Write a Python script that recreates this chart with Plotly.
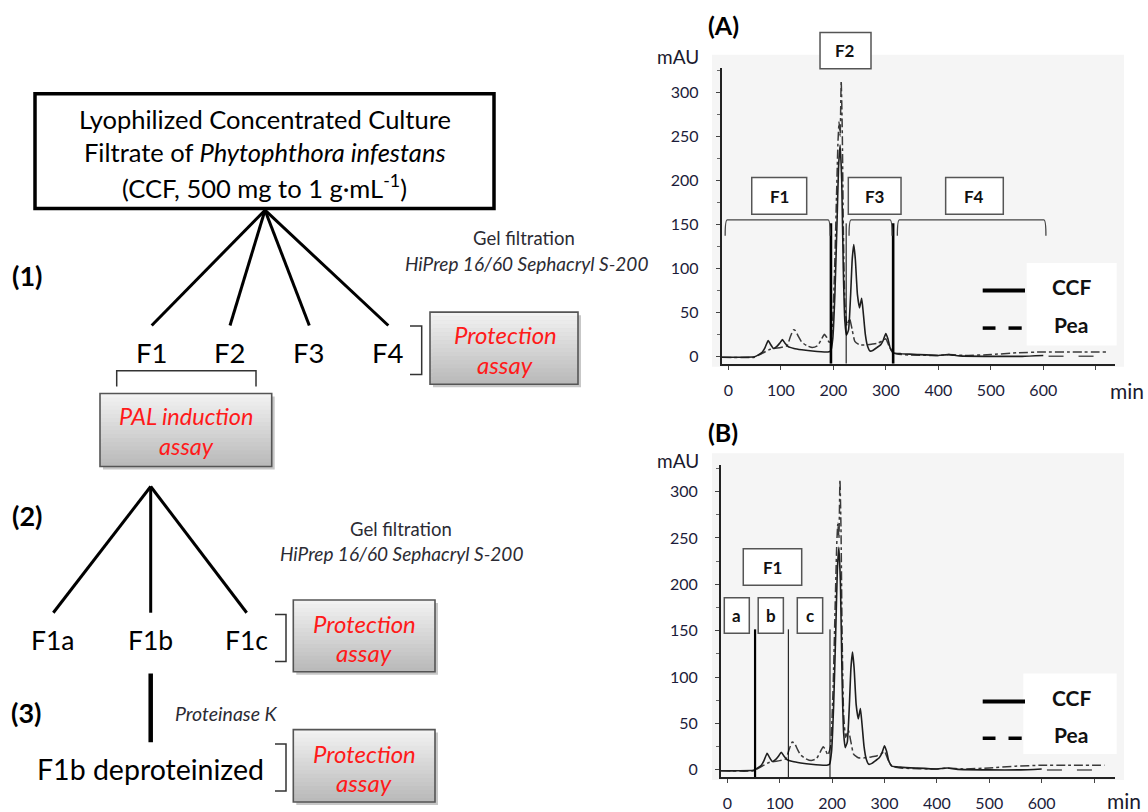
import plotly.graph_objects as go

W, H = 1148, 812

# ---------------- data ----------------
ccf_time = [-12, 20, 50, 58, 65, 70, 76, 80, 86, 92, 98, 103, 108, 114, 125, 140, 160, 190, 195,
            199, 203, 207, 210, 213, 216, 219, 222, 225, 229, 233, 236, 239, 242, 246, 250, 254,
            257, 261, 265, 270, 276, 283, 290, 295, 300, 304, 308, 314, 330, 360, 400, 420, 440,
            500, 560, 600]
ccf_mau = [-1, -1, -0.5, 2, 5, 10, 18, 14, 9, 11, 15, 19, 15, 11, 9, 7.5, 6, 5, 6,
           20, 70, 150, 215, 240, 200, 100, 40, 24, 30, 70, 110, 127, 110, 70, 55, 66,
           50, 25, 12, 6, 7, 10, 13, 18, 26, 20, 10, 4, 3, 2, 1, 2, 0.5,
           0, 0, 1]
pea_time = [-12, 50, 60, 80, 100, 112, 118, 124, 128, 134, 140, 150, 160, 170, 178, 183, 187, 192,
            197, 202, 206, 209, 211, 213, 215, 217, 219, 222, 226, 231, 236, 241, 250, 262, 275,
            285, 295, 300, 306, 314, 330, 400, 420, 450, 500, 550, 600, 650, 720]
pea_mau = [-1, -1, 2, 8, 10, 12, 22, 30, 29, 22, 16, 12, 10, 12, 20, 25, 22, 16,
           25, 90, 180, 245, 266, 250, 313, 260, 150, 60, 35, 43, 30, 17, 13, 13, 14,
           15, 18, 20, 12, 4, 2, 1, 2, 1, 2, 4, 5, 5, 5]
ccf_tail_time = [610, 720]
ccf_tail_mau = [0, 0]

x_tick_vals = [0, 100, 200, 300, 400, 500, 600]
x_tick_text = ["0", "100", "200", "300", "400", "500", "600"]
y_tick_vals = [0, 50, 100, 150, 200, 250, 300]

fractions_A = ["F1", "F3", "F4"]
fraction_A_from = [-6, 230, 322]
fraction_A_to = [194, 312, 605]
cuts_A = [195.5, 224.5, 314]
cuts_B = [53, 116.5, 196]
subfractions_B = ["a", "b", "c"]

FONT = "Lato"

# ------------- helpers (pixel -> paper) -------------
def px(x):
    return x / W

def py(y):
    return 1 - y / H

shapes = []
annotations = []

def prect(x0, y0, x1, y1, color="black", width=1, fill="rgba(0,0,0,0)", layer="above"):
    shapes.append(dict(type="rect", xref="paper", yref="paper", x0=px(x0), x1=px(x1),
                       y0=py(y1), y1=py(y0), line=dict(color=color, width=width),
                       fillcolor=fill, layer=layer))

def pline(x0, y0, x1, y1, color="black", width=3):
    shapes.append(dict(type="line", xref="paper", yref="paper", x0=px(x0), y0=py(y0),
                       x1=px(x1), y1=py(y1), line=dict(color=color, width=width), layer="above"))

def ppath(pts, color="#333", width=1.5):
    d = "M " + " L ".join(f"{px(x):.5f},{py(y):.5f}" for x, y in pts)
    shapes.append(dict(type="path", xref="paper", yref="paper", path=d,
                       line=dict(color=color, width=width), layer="above"))

def ptext(x, y, text, size=22, color="black", bold=False, italic=False, xanchor="center"):
    t = text
    if bold:
        t = f"<b>{t}</b>"
    if italic:
        t = f"<i>{t}</i>"
    annotations.append(dict(xref="paper", yref="paper", x=px(x), y=py(y), text=t,
                            showarrow=False, xanchor=xanchor, yanchor="middle",
                            font=dict(family=FONT, size=size, color=color)))

def grad_box(x0, y0, x1, y1):
    prect(x0 + 3, y0 + 3, x1 + 3, y1 + 3, color="rgba(0,0,0,0)", width=0,
          fill="rgba(0,0,0,0.22)")
    n = 18
    top = (242, 242, 242)
    bot = (186, 186, 186)
    for i in range(n):
        f = i / (n - 1)
        c = tuple(int(top[k] + (bot[k] - top[k]) * f) for k in range(3))
        ya = y0 + (y1 - y0) * i / n
        yb = y0 + (y1 - y0) * (i + 1) / n + 0.6
        prect(x0, ya, x1, min(yb, y1), color="rgba(0,0,0,0)", width=0,
              fill=f"rgb{c}")
    prect(x0, y0, x1, y1, color="#555555", width=1.6)

RED = "#ff1a1a"
GREY_TXT = "#2b2b33"

# ---------------- flowchart ----------------
prect(35, 94, 494, 209.3, color="black", width=3.5, fill="white")
ptext(264.5, 119.5, "Lyophilized Concentrated Culture", size=25.5)
ptext(264.5, 153, "Filtrate of <i>Phytophthora infestans</i>", size=25.5)
ptext(264.5, 186.5, "(CCF, 500 mg to 1 g·mL<sup>-1</sup>)", size=25.5)

apex1 = (265, 211)
f_x = [151.7, 230, 309.3, 388.3]
for fx in f_x:
    pline(apex1[0], apex1[1], fx, 326.7, width=3)
for lab, fx in zip(["F1", "F2", "F3", "F4"], f_x):
    ptext(fx, 353.5, lab, size=27.5)

ptext(27, 277, "(1)", size=27, bold=True)
ptext(27, 517, "(2)", size=27, bold=True)
ptext(26, 715, "(3)", size=27, bold=True)

ppath([(116.7, 388), (116.7, 372), (256, 372), (256, 388)])
grad_box(100, 395, 271.7, 468.3)
ptext(186, 417.5, "PAL induction", size=23.5, color=RED, italic=True)
ptext(186, 447.5, "assay", size=23.5, color=RED, italic=True)

ppath([(410, 327.3), (421.7, 327.3), (421.7, 376), (410, 376)])
grad_box(430, 313.3, 578, 385.7)
ptext(505, 336, "Protection", size=24, color=RED, italic=True)
ptext(505, 366, "assay", size=24, color=RED, italic=True)

ptext(524, 238.5, "Gel filtration", size=18.5, color=GREY_TXT)
ptext(526, 264.5, "HiPrep 16/60 Sephacryl S-200", size=19, color=GREY_TXT, italic=True)

apex2 = (150.7, 488.3)
f1_x = [53.3, 150.7, 246.7]
for fx in f1_x:
    pline(apex2[0], apex2[1], fx, 615, width=3)
for lab, fx in zip(["F1a", "F1b", "F1c"], f1_x):
    ptext(fx, 642, lab, size=26.5)

ptext(401, 531, "Gel filtration", size=18.5, color=GREY_TXT)
ptext(401, 555.5, "HiPrep 16/60 Sephacryl S-200", size=19, color=GREY_TXT, italic=True)

ppath([(275, 616.7), (286, 616.7), (286, 664), (275, 664)])
grad_box(293.3, 602.3, 435, 674.3)
ptext(364.3, 626, "Protection", size=24, color=RED, italic=True)
ptext(364.3, 655, "assay", size=24, color=RED, italic=True)

pline(150.7, 676, 150.7, 745, width=4.5)
ptext(226, 716, "Proteinase K", size=19.5, color=GREY_TXT, italic=True)
ptext(150.5, 772, "F1b deproteinized", size=28.5)

ppath([(275, 746.7), (286, 746.7), (286, 794), (275, 794)])
grad_box(293.3, 732.3, 435, 805)
ptext(364.3, 756, "Protection", size=24, color=RED, italic=True)
ptext(364.3, 785, "assay", size=24, color=RED, italic=True)

# ---------------- chromatograms ----------------
BG = "#f5f5f5"
prect(712, 55, 1124, 368, color="rgba(0,0,0,0)", width=0, fill=BG, layer="below")
prect(712, 455, 1124, 783, color="rgba(0,0,0,0)", width=0, fill=BG, layer="below")

fig = go.Figure()

line_ccf = dict(color="#1e1e1e", width=1.6, shape="spline", smoothing=0.45)
line_pea = dict(color="#3a3a3a", width=1.5, dash="dashdot", shape="spline", smoothing=0.45)
line_tail = dict(color="#555555", width=1.5, dash="longdash")

for xa, ya in [("x", "y"), ("x2", "y2")]:
    fig.add_trace(go.Scatter(x=pea_time, y=pea_mau, xaxis=xa, yaxis=ya, mode="lines",
                             line=line_pea, name="Pea", showlegend=False, hoverinfo="skip"))
    fig.add_trace(go.Scatter(x=ccf_time, y=ccf_mau, xaxis=xa, yaxis=ya, mode="lines",
                             line=line_ccf, name="CCF", showlegend=False, hoverinfo="skip"))
    fig.add_trace(go.Scatter(x=ccf_tail_time, y=ccf_tail_mau, xaxis=xa, yaxis=ya, mode="lines",
                             line=line_tail, name="CCF", showlegend=False, hoverinfo="skip"))

A_xr = [-12.6, 736.6]
A_yr = [-8.3, 327.7]
B_xr = [-12.0, 739.9]
B_yr = [-7.8, 328.7]

def dshape(xa, ya, **kw):
    d = dict(xref=xa, yref=ya, layer="above")
    d.update(kw)
    shapes.append(d)

BOXFONT = dict(family=FONT, size=17, color="#111")

def dtext(xa, ya, x, y, text):
    annotations.append(dict(xref=xa, yref=ya, x=x, y=y, text=f"<b>{text}</b>",
                            showarrow=False, xanchor="center", yanchor="middle",
                            font=BOXFONT))

# A: cut lines
for c, wdt in zip(cuts_A, [2.6, 1.0, 2.6]):
    dshape("x", "y", type="line", x0=c, x1=c, y0=A_yr[0], y1=151,
           line=dict(color="black", width=wdt))
# A: brackets
for x0, x1 in zip(fraction_A_from, fraction_A_to):
    path = (f"M {x0},137 Q {x0},155 {x0+4},155 L {x1-4},155 Q {x1},155 {x1},137")
    dshape("x", "y", type="path", path=path, line=dict(color="#444", width=1.3))
# A: fraction label boxes
box_A_x = [(44.6, 149.3), (228.6, 329), (414, 523.8)]
for lab, (x0, x1) in zip(fractions_A, box_A_x):
    dshape("x", "y", type="rect", x0=x0, x1=x1, y0=161.4, y1=203,
           line=dict(color="#555", width=1.5), fillcolor="white")
    dtext("x", "y", (x0 + x1) / 2, 182, lab)
shapes.append(dict(type="rect", xref="x", yref="paper", x0=174.7, x1=271.8,
                   y0=py(69), y1=py(32.7), line=dict(color="#555", width=1.5),
                   fillcolor="white", layer="above"))
dtext("x", "paper", 223.2, py(51), "F2")

# B: cut lines
for c, wdt in zip(cuts_B, [2.2, 1.0, 1.0]):
    dshape("x2", "y2", type="line", x0=c, x1=c, y0=B_yr[0], y1=151.5,
           line=dict(color="black", width=wdt))
box_B_x = [(-5.7, 42), (59, 107), (133.6, 182)]
for lab, (x0, x1) in zip(subfractions_B, box_B_x):
    dshape("x2", "y2", type="rect", x0=x0, x1=x1, y0=147.2, y1=185.5,
           line=dict(color="#555", width=1.5), fillcolor="white")
    dtext("x2", "y2", (x0 + x1) / 2, 166.3, lab)
dshape("x2", "y2", type="rect", x0=30.5, x1=142, y0=199, y1=238.5,
       line=dict(color="#555", width=1.5), fillcolor="white")
dtext("x2", "y2", 86.2, 218.7, "F1")

# drawn legends
for (bx0, by0, bx1, by1, ly1, ly2) in [(1026.7, 264, 1116.7, 346.7, 291.7, 329.3),
                                      (1023.3, 676, 1116.7, 756.7, 704, 741)]:
    prect(bx0, by0, bx1, by1, color="rgba(0,0,0,0)", width=0, fill="white")
    pline(982.7, ly1, 1025, ly1, color="black", width=4)
    pline(982.7, ly2, 995.5, ly2, color="black", width=3.5)
    pline(1008.5, ly2, 1021.7, ly2, color="black", width=3.5)
    ptext(1071, ly1 - 4, "CCF", size=21, bold=True, color="#111")
    ptext(1071, ly2 - 3.5, "Pea", size=21, bold=True, color="#111")

# panel labels
ptext(723, 25, "(A)", size=25, bold=True)
ptext(723, 434, "(B)", size=25, bold=True)
ptext(678, 57, "mAU", size=19, color="#1a1a2e")
ptext(678, 462, "mAU", size=19, color="#1a1a2e")
ptext(1127, 392, "min", size=21, color="#1a1a2e")
ptext(1124, 803, "min", size=21, color="#1a1a2e")

tickfont = dict(family=FONT, size=16, color="#1c1c3a")
common_x = dict(tickmode="array", tickvals=x_tick_vals, ticktext=x_tick_text,
                showgrid=False, zeroline=False, showline=True, linecolor="#222",
                linewidth=2, ticks="outside", ticklen=4, tickcolor="#444",
                tickfont=tickfont, ticklabelstandoff=7,
                minor=dict(ticks="outside", ticklen=4, tickcolor="#444", dtick=100, tick0=0))
common_y = dict(tickmode="array", tickvals=y_tick_vals, showgrid=False, zeroline=False,
                showline=True, linecolor="#222", linewidth=2, ticks="outside",
                ticklen=4, tickcolor="#444", tickfont=tickfont, ticklabelstandoff=14,
                minor=dict(ticks="outside", ticklen=3, tickcolor="#666", dtick=25,
                           tick0=0))

fig.update_layout(
    width=W, height=H, autosize=False,
    margin=dict(l=0, r=0, t=0, b=0),
    paper_bgcolor="white", plot_bgcolor=BG,
    showlegend=False,
    xaxis=dict(domain=[721.7 / W, 1115 / W], range=A_xr, anchor="y", **common_x),
    yaxis=dict(domain=[py(365), py(68)], range=A_yr, anchor="x", **common_y),
    xaxis2=dict(domain=[721 / W, 1115 / W], range=B_xr, anchor="y2", **common_x),
    yaxis2=dict(domain=[py(780), py(466.7)], range=B_yr, anchor="x2", **common_y),
    shapes=shapes,
    annotations=annotations,
)

fig.write_html("out.html", config={"displayModeBar": False},
               post_script="document.body.style.margin='0px';document.body.style.overflow='hidden';")
